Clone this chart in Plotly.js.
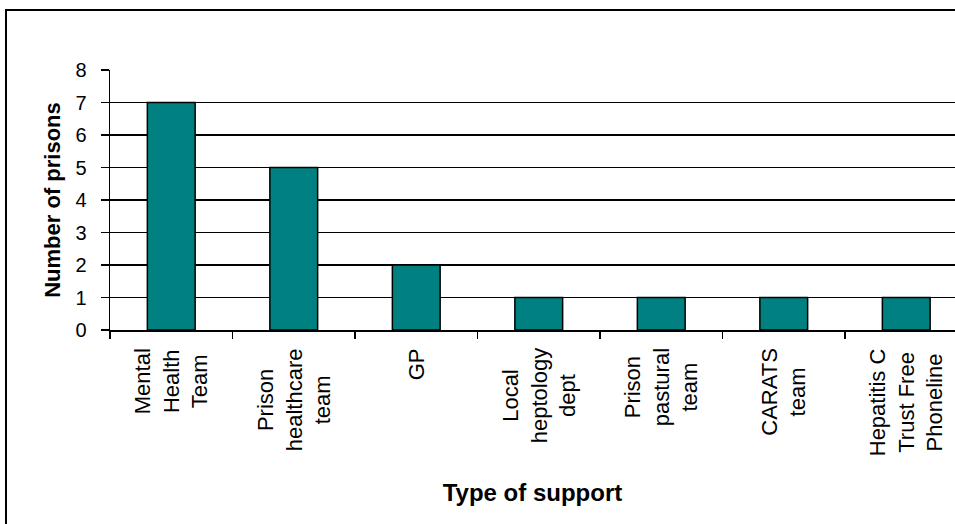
<!DOCTYPE html>
<html>
<head>
<meta charset="utf-8">
<script src="https://cdn.plot.ly/plotly-3.0.1.min.js"></script>
<style>
html,body{margin:0;padding:0;background:#fff;overflow:hidden;}
#frame{position:absolute;left:5px;top:9px;width:2000px;height:2000px;border:2px solid #000;box-sizing:border-box;}
#chart{position:absolute;left:0;top:0;width:955px;height:524px;}
</style>
</head>
<body>
<div id="frame"></div>
<div id="chart"></div>
<script>
var categories = ["Mental Health Team", "Prison healthcare team", "GP", "Local heptology dept", "Prison pastural team", "CARATS team", "Hepatitis C Trust Free Phoneline"];
var labelLines = [["Mental", "Health", "Team"], ["Prison", "healthcare", "team"], ["GP"], ["Local", "heptology", "dept"], ["Prison", "pastural", "team"], ["CARATS", "team"], ["Hepatitis C", "Trust Free", "Phoneline"]];
var prisons = [7, 5, 2, 1, 1, 1, 1];
var yTicks = [0, 1, 2, 3, 4, 5, 6, 7, 8];

var FONT = "Arial, 'Liberation Sans', sans-serif";
var plotLeft = 110, catWidth = 122.5, pageWidth = 955;
var xMax = -0.5 + (pageWidth - plotLeft) / catWidth;

var annotations = categories.map(function (c, i) {
  return {
    xref: "x", yref: "paper", x: c, y: 0,
    text: labelLines[i].join("<br>"),
    textangle: -90, align: "center",
    xanchor: "center", yanchor: "top", yshift: -16,
    showarrow: false,
    font: {family: FONT, size: 22, color: "#000"}
  };
});

var trace = {
  type: "bar",
  x: categories,
  y: prisons,
  marker: {color: "#008080", line: {color: "#000", width: 1.5}},
  hoverinfo: "skip"
};

var layout = {
  width: 955, height: 524,
  margin: {l: plotLeft, r: 0, t: 70, b: 194},
  paper_bgcolor: "rgba(0,0,0,0)", plot_bgcolor: "rgba(0,0,0,0)",
  showlegend: false,
  bargap: 0.61,
  font: {family: FONT, color: "#000"},
  xaxis: {
    type: "category",
    range: [-0.5, xMax],
    showticklabels: false,
    ticks: "outside", ticklen: 7, tickwidth: 1.3, tickcolor: "#000",
    tickson: "boundaries",
    showline: true, linecolor: "#000", linewidth: 1.5,
    showgrid: false, zeroline: false,
    title: {text: "<b>Type of support</b>", font: {family: FONT, size: 24, color: "#000"}, standoff: 153}
  },
  yaxis: {
    range: [0, 8],
    tickvals: yTicks,
    ticktext: yTicks.map(String),
    ticks: "outside", ticklen: 8, tickwidth: 1.3, tickcolor: "#000",
    ticklabelstandoff: 10,
    tickfont: {family: FONT, size: 20, color: "#000"},
    showline: true, linecolor: "#000", linewidth: 1.5,
    showgrid: true, gridcolor: "#000", gridwidth: 1.3,
    zeroline: false,
    title: {text: "<b>Number of prisons</b>", font: {family: FONT, size: 22, color: "#000"}, standoff: 8}
  },
  annotations: annotations
};

Plotly.newPlot("chart", [trace], layout, {displayModeBar: false, staticPlot: true});
</script>
</body>
</html>
